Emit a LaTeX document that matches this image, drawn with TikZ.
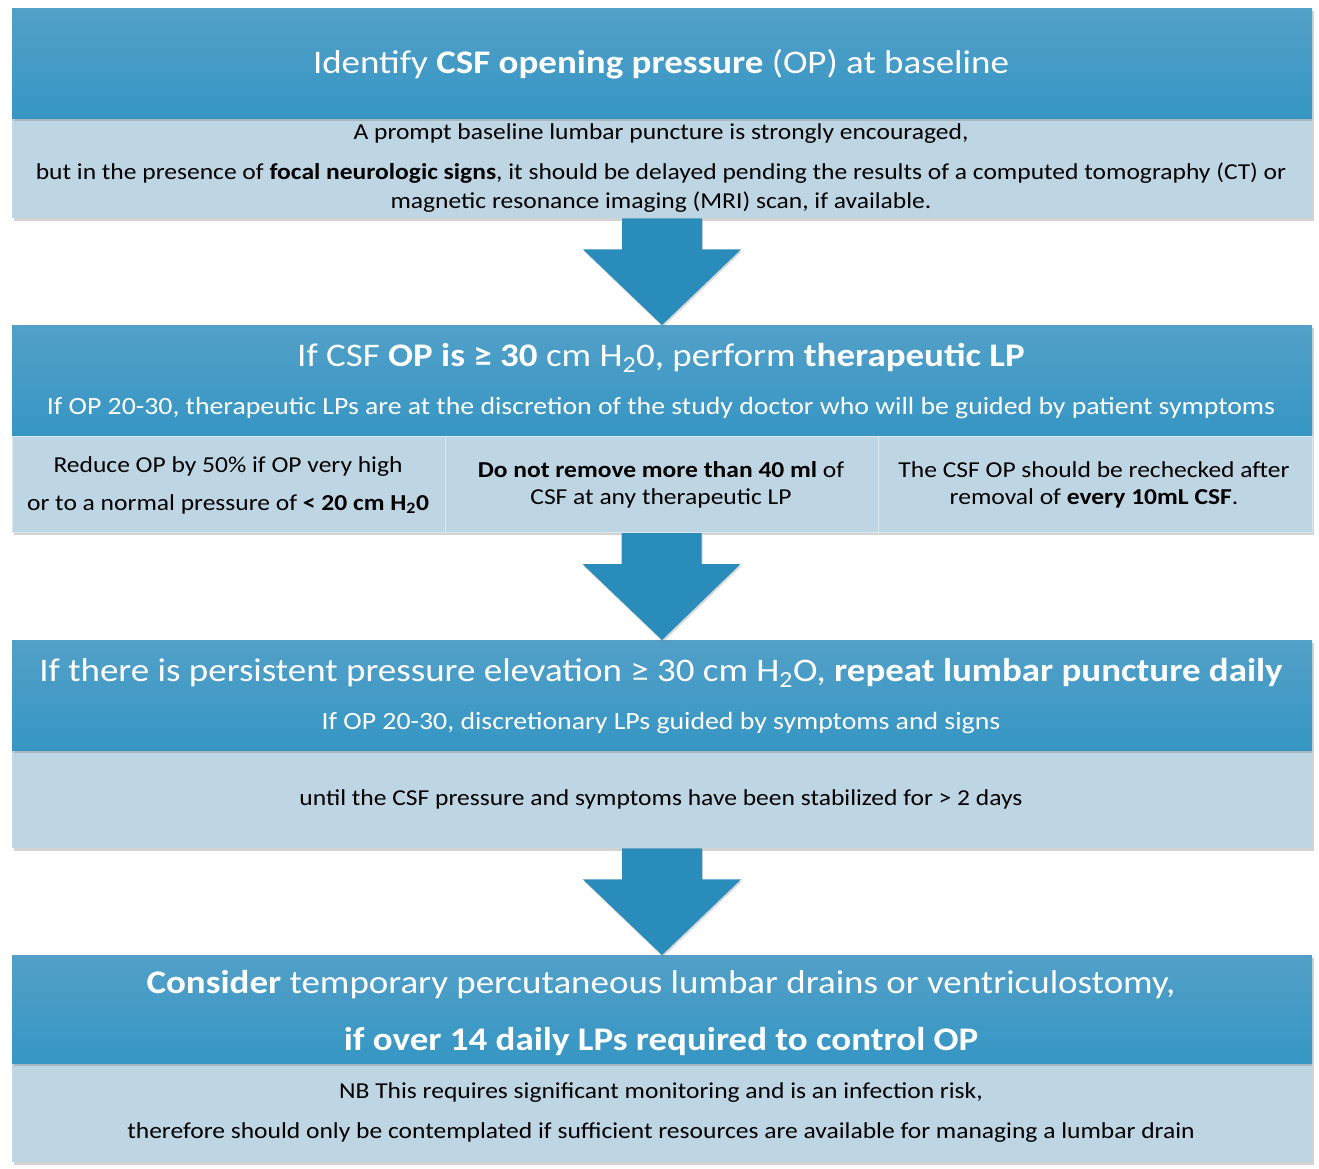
\documentclass[tikz,border=0pt]{standalone}
\usepackage{fontspec}
\setmainfont{Carlito}[FakeStretch=1.12]
\usetikzlibrary{shadows,calc}
\definecolor{hdtop}{RGB}{82,160,200}
\definecolor{hdbot}{RGB}{54,150,196}
\definecolor{ltfill}{RGB}{190,213,227}
\definecolor{arrowc}{RGB}{42,140,186}
\def\boxwidth{1300pt}
\def\titlefont{\fontsize{33}{38}\selectfont}
\def\subfont{\fontsize{24.8}{29}\selectfont}
\def\bodyfont{\fontsize{22.8}{27}\selectfont}

\begin{document}
\begin{tikzpicture}[x=1pt,y=-1pt]
		\tikzstyle{boxshadow}=[drop shadow={shadow xshift=1.5pt,shadow yshift=-2.5pt,opacity=0.35}]
		\tikzstyle{hdbox}=[rectangle,top color=hdtop,bottom color=hdbot,draw=none,minimum width=\boxwidth,anchor=north,inner sep=0pt,boxshadow]
		\tikzstyle{ltbox}=[rectangle,fill=ltfill,draw=none,minimum width=\boxwidth,anchor=north,inner sep=0pt,boxshadow]
		\tikzstyle{cellbox}=[rectangle,fill=ltfill,draw=white!45!ltfill,line width=1pt,anchor=north,inner sep=0pt]
		\tikzstyle{hdtext}=[text=white,anchor=base,inner sep=0pt]
		\tikzstyle{lttext}=[text=black,anchor=base,inner sep=0pt,font=\bodyfont]
		\tikzstyle{blockarrow}=[fill=arrowc,drop shadow={shadow xshift=1pt,shadow yshift=-2pt,opacity=0.3}]
		
		\useasboundingbox (0,0) rectangle (1319,1169);
		
		% Draw the boxes
		\node[ltbox, minimum height=100pt] (lt1) at (662,118) {};
		\node[hdbox, minimum height=110pt] (hd1) at (662,8) {};
		\node[ltbox, minimum height=96pt] (lt2) at (662,436) {};
		\node[hdbox, minimum height=111pt] (hd2) at (662,325) {};
		\node[cellbox, minimum width=433pt, minimum height=96pt] (c1) at (228.5,436) {};
		\node[cellbox, minimum width=433pt, minimum height=96pt] (c2) at (661.5,436) {};
		\node[cellbox, minimum width=434pt, minimum height=96pt] (c3) at (1095,436) {};
		\node[ltbox, minimum height=98pt] (lt3) at (662,750) {};
		\node[hdbox, minimum height=110pt] (hd3) at (662,640) {};
		\node[ltbox, minimum height=99pt] (lt4) at (662,1063) {};
		\node[hdbox, minimum height=108pt] (hd4) at (662,955) {};
		
		% Draw the arrows between the boxes
		\foreach \source/\dest in {lt1/hd2,c2/hd3,lt3/hd4}
		\fill[blockarrow] ($(\source.south)+(-40,0)$) -- ($(\source.south)+(40,0)$) -- ($(\source.south)+(40,31)$)
			-- ($(\source.south)+(79,31)$) -- (\dest.north) -- ($(\source.south)+(-79,31)$) -- ($(\source.south)+(-40,31)$) -- cycle;
		
		% First box
		\node[hdtext, font=\titlefont] (t1) at (661,74) {Identify \textbf{CSF opening pressure} (OP) at baseline};
		\node[lttext] (t1a) at (661,140) {A prompt baseline lumbar puncture is strongly encouraged,};
		\node[lttext] (t1b) at (661,180) {but in the presence of \textbf{focal neurologic signs}, it should be delayed pending the results of a computed tomography (CT) or};
		\node[lttext] (t1c) at (661,208) {magnetic resonance imaging (MRI) scan, if available.};
		
		% Second box
		\node[hdtext, font=\titlefont] (t2) at (661,366) {If CSF \textbf{OP is ≥ 30} cm H\textsubscript{2}0, perform \textbf{therapeutic LP}};
		\node[hdtext, font=\subfont] (t2a) at (661,414) {If OP 20-30, therapeutic LPs are at the discretion of the study doctor who will be guided by patient symptoms};
		\node[lttext] (c1a) at (228,472) {Reduce OP by 50\% if OP very high};
		\node[lttext] (c1b) at (228,510) {or to a normal pressure of \textbf{< 20 cm H\textsubscript{2}0}};
		\node[lttext] (c2a) at (661,477) {\textbf{Do not remove more than 40 ml} of};
		\node[lttext] (c2b) at (661,504) {CSF at any therapeutic LP};
		\node[lttext] (c3a) at (1094,477) {The CSF OP should be rechecked after};
		\node[lttext] (c3b) at (1094,504) {removal of \textbf{every 10mL CSF}.};
		
		% Third box
		\node[hdtext, font=\titlefont] (t3) at (661,681) {If there is persistent pressure elevation ≥ 30 cm H\textsubscript{2}O, \textbf{repeat lumbar puncture daily}};
		\node[hdtext, font=\subfont] (t3a) at (661,729) {If OP 20-30, discretionary LPs guided by symptoms and signs};
		\node[lttext] (t3b) at (661,805) {until the CSF pressure and symptoms have been stabilized for > 2 days};
		
		% Fourth box
		\node[hdtext, font=\titlefont] (t4) at (661,993) {\textbf{Consider} temporary percutaneous lumbar drains or ventriculostomy,};
		\node[hdtext, font=\titlefont] (t4a) at (661,1050) {\textbf{if over 14 daily LPs required to control OP}};
		\node[lttext] (t4b) at (661,1098) {NB This requires significant monitoring and is an infection risk,};
		\node[lttext] (t4c) at (661,1138) {therefore should only be contemplated if sufficient resources are available for managing a lumbar drain};
	\end{tikzpicture}
\end{document}
